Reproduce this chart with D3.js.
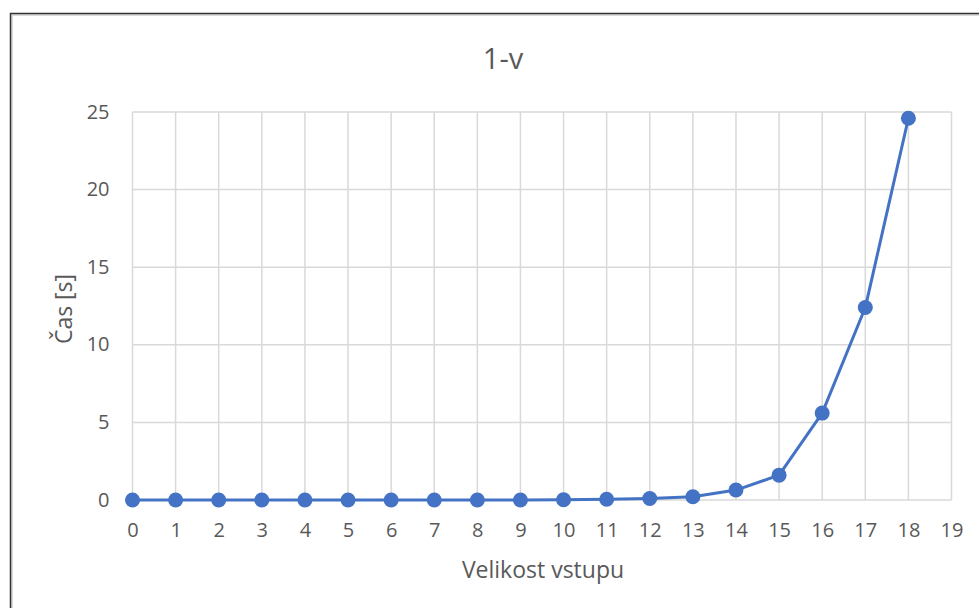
<!DOCTYPE html>
<html><head><meta charset="utf-8">
<script src="https://cdn.jsdelivr.net/npm/d3@7"></script>
<style>body{margin:0;background:#fff}svg{display:block}text{font-family:"Open Sans","Liberation Sans",sans-serif;fill:#595959}</style>
</head><body><svg id="c" width="979" height="608"></svg>
<script>
const title = "1-v";
const xLabel = "Velikost vstupu";
const yLabel = "Čas [s]";
const xValues = [0,1,2,3,4,5,6,7,8,9,10,11,12,13,14,15,16,17,18];
const yValues = [0,0,0,0,0,0,0,0,0,0,0.02,0.05,0.1,0.21,0.64,1.6,5.6,12.4,24.6];
const xTicks = [0,1,2,3,4,5,6,7,8,9,10,11,12,13,14,15,16,17,18,19];
const yTicks = [0,5,10,15,20,25];

const svg = d3.select("#c");
// frame
svg.append("rect").attr("x",12).attr("y",15).attr("width",1000).attr("height",700).attr("fill","none").attr("stroke","#d0d0d0").attr("stroke-width",1.5);
svg.append("rect").attr("x",10.5).attr("y",13.5).attr("width",1000).attr("height",700).attr("fill","none").attr("stroke","#333").attr("stroke-width",1.5);

const x = d3.scaleLinear().domain([0,19]).range([132.5,951.5]);
const y = d3.scaleLinear().domain([0,25]).range([500,112]);

const g = svg.append("g");
g.selectAll(".vg").data(xTicks).join("line").attr("x1",d=>x(d)).attr("x2",d=>x(d)).attr("y1",y(0)).attr("y2",y(25)).attr("stroke","#d9d9d9").attr("stroke-width",1.5);
g.selectAll(".hg").data(yTicks).join("line").attr("x1",x(0)).attr("x2",x(19)).attr("y1",d=>y(d)).attr("y2",d=>y(d)).attr("stroke","#d9d9d9").attr("stroke-width",1.5);

const xAxis = svg.append("g").attr("transform",`translate(0,${y(0)})`).call(d3.axisBottom(x).tickValues(xTicks).tickSize(0).tickPadding(23).tickFormat(d3.format("d")));
xAxis.select(".domain").remove();
xAxis.selectAll("text").attr("font-size",20).style("fill","#595959").style("font-family","'Open Sans',sans-serif");
const yAxis = svg.append("g").attr("transform",`translate(${x(0)},0)`).call(d3.axisLeft(y).tickValues(yTicks).tickSize(0).tickPadding(23).tickFormat(d3.format("d")));
yAxis.select(".domain").remove();
yAxis.selectAll("text").attr("font-size",20).attr("dy","0.3em").style("fill","#595959").style("font-family","'Open Sans',sans-serif");

svg.append("text").attr("x",503).attr("y",69).attr("text-anchor","middle").attr("font-size",29).text(title);
svg.append("text").attr("x",543).attr("y",578).attr("text-anchor","middle").attr("font-size",23).text(xLabel);
svg.append("text").attr("transform","translate(71.5,309) rotate(-90)").attr("text-anchor","middle").attr("font-size",23).text(yLabel);

const data = xValues.map((v,i)=>[v,yValues[i]]);
const line = d3.line().x(d=>x(d[0])).y(d=>y(d[1]));
svg.append("path").datum(data).attr("d",line).attr("fill","none").attr("stroke","#4472C4").attr("stroke-width",3).attr("stroke-linejoin","round");
svg.selectAll(".pt").data(data).join("circle").attr("cx",d=>x(d[0])).attr("cy",d=>y(d[1])).attr("r",7.5).attr("fill","#4472C4");
</script></body></html>
